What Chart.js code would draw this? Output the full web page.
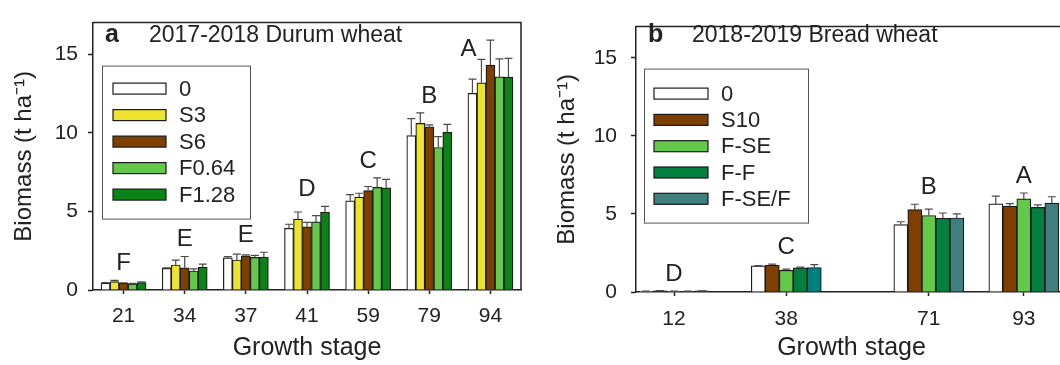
<!DOCTYPE html>
<html>
<head>
<meta charset="utf-8">
<script src="https://cdn.jsdelivr.net/npm/chart.js@4.4.1/dist/chart.umd.min.js"></script>
<style>
  html, body { margin: 0; padding: 0; background: #fff; overflow: hidden; }
  #wrap { position: relative; width: 1060px; height: 365px; overflow: hidden; }
  #boxA { position: absolute; left: 0; top: 0; width: 530px; height: 365px; }
  #boxB { position: absolute; left: 530px; top: 0; width: 540px; height: 365px; }
</style>
</head>
<body>
<div id="wrap">
  <div id="boxA"><canvas id="chartA"></canvas></div>
  <div id="boxB"><canvas id="chartB"></canvas></div>
</div>
<script>
// ---- panel a: 2017-2018 durum wheat ----
const stagesA = ["21", "34", "37", "41", "59", "79", "94"];
const lettersA = ["F", "E", "E", "D", "C", "B", "A"];
const ctrlA = [0.44, 1.37, 2.04, 3.92, 5.67, 9.82, 12.5];
const s3A = [0.54, 1.59, 1.91, 4.51, 5.91, 10.59, 13.17];
const s6A = [0.43, 1.41, 2.17, 4.02, 6.32, 10.38, 14.3];
const f064A = [0.39, 1.21, 2.07, 4.33, 6.52, 9.06, 13.55];
const f128A = [0.47, 1.46, 2.1, 4.94, 6.5, 10.02, 13.53];
const ctrlAErr = [0.03, 0.04, 0.08, 0.26, 0.39, 1.08, 0.91];
const s3AErr = [0.07, 0.31, 0.37, 0.45, 0.24, 0.67, 1.49];
const s6AErr = [0.03, 0.72, 0.06, 0.28, 0.26, 0.12, 1.59];
const f064AErr = [0.03, 0.13, 0.13, 0.4, 0.61, 0.69, 1.14];
const f128AErr = [0.05, 0.18, 0.3, 0.38, 0.53, 0.51, 1.19];

// ---- panel b: 2018-2019 bread wheat ----
const stagesB = [12, 38, 71, 93];
const lettersB = ["D", "C", "B", "A"];
const ctrlB = [0.05, 1.67, 4.32, 5.64];
const s10B = [0.08, 1.71, 5.28, 5.5];
const fseB = [0.04, 1.39, 4.9, 5.96];
const ffB = [0.04, 1.55, 4.72, 5.42];
const fsefB = [0.07, 1.57, 4.74, 5.7];
const ctrlBErr = [0.01, 0.02, 0.18, 0.5];
const s10BErr = [0.01, 0.08, 0.34, 0.16];
const fseBErr = [0.01, 0.08, 0.41, 0.38];
const ffBErr = [0.01, 0.04, 0.34, 0.16];
const fsefBErr = [0.01, 0.18, 0.26, 0.4];

const FONT = '"Liberation Sans", Arial, sans-serif';
const INK = "#222";
Chart.defaults.font.family = FONT;
Chart.defaults.color = INK;

const WHITE = "#ffffff", YELLOW = "#ece42f", BROWN = "#7f3f00",
      LGREEN = "#64c94a", DGREEN_A = "#0b8316", DGREEN_B = "#03803f",
      TEAL = "#3f7f7e", TEAL_38 = "#00807f";

function bar(label, data, color, errors) {
  return {
    label: label,
    data: data,
    errors: errors,
    backgroundColor: color,
    borderColor: "#1a1a1a",
    borderWidth: 1.2,
    borderSkipped: "bottom",
  };
}

// error bars, significance letters, frame, legend, panel title
function decorPlugin(opt) {
  return {
    id: "decor",
    afterDatasetsDraw(chart) {
      const ctx = chart.ctx;
      const area = chart.chartArea;
      const yScale = chart.scales.y;
      const dsets = chart.data.datasets;
      ctx.save();

      // error bars (upper only)
      ctx.strokeStyle = "#4a4a4a";
      ctx.lineWidth = 1.2;
      dsets.forEach((ds, di) => {
        chart.getDatasetMeta(di).data.forEach((el, i) => {
          const raw = ds.data[i];
          const v = typeof raw === "object" ? raw.y : raw;
          const top = yScale.getPixelForValue(v + ds.errors[i]);
          ctx.beginPath();
          ctx.moveTo(el.x, el.y);
          ctx.lineTo(el.x, top);
          ctx.moveTo(el.x - 4, top);
          ctx.lineTo(el.x + 4, top);
          ctx.stroke();
        });
      });

      // letters above each group
      ctx.fillStyle = INK;
      ctx.font = "24px " + FONT;
      ctx.textAlign = "center";
      ctx.textBaseline = "alphabetic";
      const mid = chart.getDatasetMeta(2).data;
      opt.letters.forEach((letter, i) => {
        let topPx = Infinity;
        dsets.forEach((ds) => {
          const raw = ds.data[i];
          const v = typeof raw === "object" ? raw.y : raw;
          topPx = Math.min(topPx, yScale.getPixelForValue(v + ds.errors[i]));
        });
        let x = mid[i].x;
        let base = topPx - 10;
        if (base < area.top + 33) {
          base = area.top + 33;
          x -= 22;
        }
        ctx.fillText(letter, x, base);
      });

      // top and right frame lines
      ctx.strokeStyle = INK;
      ctx.lineWidth = 1.5;
      ctx.beginPath();
      ctx.moveTo(area.left, area.top);
      ctx.lineTo(area.right, area.top);
      ctx.lineTo(area.right, area.bottom);
      ctx.stroke();

      // legend box
      const lx = area.left + opt.legend.dx, ly = area.top + opt.legend.dy;
      ctx.strokeStyle = "#555";
      ctx.lineWidth = 1;
      ctx.strokeRect(lx + 0.5, ly + 0.5, opt.legend.w, opt.legend.h);
      ctx.font = "22px " + FONT;
      ctx.textAlign = "left";
      ctx.textBaseline = "middle";
      dsets.forEach((ds, di) => {
        const cy = ly + opt.legend.first + di * opt.legend.step;
        const sx = lx + opt.legend.sx;
        const col = Array.isArray(ds.backgroundColor) ? ds.backgroundColor[0] : ds.backgroundColor;
        ctx.fillStyle = col;
        ctx.fillRect(sx, cy - 5.5, opt.legend.sw, 11);
        ctx.strokeStyle = "#1a1a1a";
        ctx.lineWidth = 1.2;
        ctx.strokeRect(sx, cy - 5.5, opt.legend.sw, 11);
        ctx.fillStyle = INK;
        ctx.fillText(ds.label, sx + opt.legend.sw + 13, cy + 1);
      });

      // panel letter and title
      ctx.textBaseline = "alphabetic";
      ctx.font = "bold 25px " + FONT;
      ctx.fillText(opt.tag, area.left + 12, 42);
      ctx.font = "23px " + FONT;
      ctx.fillText(opt.title, area.left + 56, 42);
      ctx.restore();
    },
  };
}

function yAxis(width, titlePad, tickPad) {
  return {
    min: 0,
    max: 17,
    afterFit: (s) => { s.width = width; },
    afterBuildTicks: (s) => { s.ticks = [0, 5, 10, 15].map((v) => ({ value: v })); },
    ticks: { font: { size: 21 }, color: INK, padding: tickPad },
    grid: { drawOnChartArea: false, tickLength: 5, color: INK, tickWidth: 1.5 },
    border: { color: INK, width: 1.5 },
    title: {
      display: true,
      text: "Biomass (t ha\u207B\u00B9)",
      font: { size: 24 },
      color: INK,
      padding: { top: titlePad, bottom: 0 },
    },
  };
}

function xTitle() {
  return { display: true, text: "Growth stage", font: { size: 25 }, color: INK, padding: { top: 0, bottom: 2 } };
}

const chartA = new Chart(document.getElementById("chartA").getContext("2d"), {
  type: "bar",
  data: {
    labels: stagesA,
    datasets: [
      bar("0", ctrlA, WHITE, ctrlAErr),
      bar("S3", s3A, YELLOW, s3AErr),
      bar("S6", s6A, BROWN, s6AErr),
      bar("F0.64", f064A, LGREEN, f064AErr),
      bar("F1.28", f128A, DGREEN_A, f128AErr),
    ],
  },
  options: {
    responsive: true,
    maintainAspectRatio: false,
    animation: false,
    layout: { padding: { top: 10, right: 9, bottom: 0, left: 0 } },
    datasets: { bar: { barThickness: 9, grouped: true } },
    plugins: { legend: { display: false }, tooltip: { enabled: false } },
    scales: {
      x: {
        offset: true,
        afterFit: (s) => { s.height = 75; },
        ticks: { font: { size: 21 }, color: INK, padding: 10 },
        grid: { offset: false, drawOnChartArea: false, tickLength: 4, color: INK, tickWidth: 1.5 },
        border: { color: INK, width: 1.5 },
        title: xTitle(),
      },
      y: yAxis(93, 10, 10),
    },
  },
  plugins: [decorPlugin({
    letters: lettersA,
    tag: "a",
    title: "2017-2018 Durum wheat",
    legend: { dx: 9, dy: 43, w: 148, h: 153, sx: 11, sw: 53, first: 23, step: 26.5 },
  })],
});

function pts(vals) {
  return vals.map((v, i) => ({ x: stagesB[i], y: v }));
}

const chartB = new Chart(document.getElementById("chartB").getContext("2d"), {
  type: "bar",
  data: {
    datasets: [
      bar("0", pts(ctrlB), WHITE, ctrlBErr),
      bar("S10", pts(s10B), BROWN, s10BErr),
      bar("F-SE", pts(fseB), LGREEN, fseBErr),
      bar("F-F", pts(ffB), DGREEN_B, ffBErr),
      bar("F-SE/F", pts(fsefB), [TEAL, TEAL_38, TEAL, TEAL], fsefBErr),
    ],
  },
  options: {
    responsive: true,
    maintainAspectRatio: false,
    animation: false,
    layout: { padding: { top: 10, right: 3, bottom: 0, left: 0 } },
    datasets: { bar: { barThickness: 14, grouped: true } },
    plugins: { legend: { display: false }, tooltip: { enabled: false } },
    scales: {
      x: {
        type: "linear",
        offset: false,
        min: 3.2,
        max: 103,
        afterFit: (s) => { s.height = 73; },
        afterBuildTicks: (s) => { s.ticks = stagesB.map((v) => ({ value: v })); },
        ticks: { font: { size: 21 }, color: INK, padding: 11 },
        grid: { offset: false, drawOnChartArea: false, tickLength: 4, color: INK, tickWidth: 1.5 },
        border: { color: INK, width: 1.5 },
        title: xTitle(),
      },
      y: yAxis(106, 23, 14),
    },
  },
  plugins: [decorPlugin({
    letters: lettersB,
    tag: "b",
    title: "2018-2019 Bread wheat",
    legend: { dx: 8, dy: 42, w: 164, h: 154, sx: 10, sw: 54, first: 25, step: 26.3 },
  })],
});
</script>
</body>
</html>
